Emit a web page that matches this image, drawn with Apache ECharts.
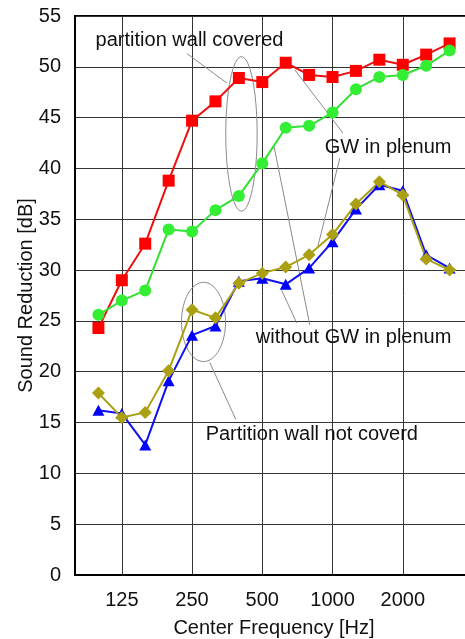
<!DOCTYPE html>
<html>
<head>
<meta charset="utf-8">
<script src="https://cdn.jsdelivr.net/npm/echarts@6/dist/echarts.min.js"></script>
<style>
html, body { margin: 0; padding: 0; background: #fff; }
#chart { width: 465px; height: 639px; }
</style>
</head>
<body>
<div id="chart"></div>
<script>
// axis bands (80 and 4000 only pad the axis ends)
var axisBands = ['80', '100', '125', '160', '200', '250', '315', '400', '500', '630', '800', '1000', '1250', '1600', '2000', '2500', '3150', '4000'];
var bands = ['100', '125', '160', '200', '250', '315', '400', '500', '630', '800', '1000', '1250', '1600', '2000', '2500', '3150'];
var tickLabels = ['125', '250', '500', '1000', '2000'];

// covered, GW in plenum
var coveredGW = [24.3, 29.0, 32.6, 38.8, 44.7, 46.6, 48.9, 48.5, 50.4, 49.2, 49.0, 49.6, 50.7, 50.2, 51.2, 52.3];
// covered, without GW
var coveredNoGW = [25.6, 27.0, 28.0, 34.0, 33.8, 35.9, 37.3, 40.5, 44.0, 44.2, 45.5, 47.8, 49.0, 49.2, 50.1, 51.6];
// not covered, GW in plenum
var notCoveredGW = [16.2, 15.9, 12.8, 19.1, 23.6, 24.5, 28.9, 29.2, 28.6, 30.2, 32.8, 36.0, 38.4, 37.8, 31.5, 30.2];
// not covered, without GW
var notCoveredNoGW = [17.9, 15.5, 16.0, 20.1, 26.1, 25.3, 28.7, 29.7, 30.3, 31.5, 33.5, 36.5, 38.7, 37.4, 31.1, 30.0];

// notes: [axis band index, dB]
var notes = [
    { text: 'partition wall covered', at: [0.88, 52.6] },
    { text: 'GW in plenum', at: [10.67, 42.05] },
    { text: 'without GW in plenum', at: [7.72, 23.4] },
    { text: 'Partition wall not coverd', at: [5.58, 13.85] }
];
var leaders = [
    [[4.78, 51.3], [6.49, 48.4]],
    [[9.39, 49.7], [11.44, 43.5]],
    [[11.31, 41.0], [10.37, 32.3]],
    [[8.49, 42.3], [10.03, 24.6]],
    [[8.83, 28.0], [9.47, 24.8]],
    [[5.76, 20.9], [6.87, 15.3]]
];
// [center band index, center dB, half width in bands, half height in dB]
var rings = [
    [7.11, 43.4, 0.67, 7.6],
    [5.49, 24.9, 0.94, 3.9]
];

var font = 'Liberation Sans, Arial, sans-serif';

function pairs(vals) {
    return bands.map(function (b, i) { return [b, vals[i]]; });
}
function showTick(index, value) {
    return tickLabels.indexOf(value) >= 0;
}

var chart = echarts.init(document.getElementById('chart'));
var option = {
    animation: false,
    grid: {
        left: 75,
        top: 16,
        right: -8,
        bottom: 64,
        show: true,
        borderColor: '#000',
        borderWidth: 2,
        outerBoundsMode: 'none'
    },
    xAxis: {
        type: 'category',
        boundaryGap: false,
        data: axisBands,
        name: 'Center Frequency [Hz]',
        nameLocation: 'middle',
        nameGap: 43,
        nameMoveOverlap: false,
        nameTextStyle: { fontSize: 20, color: '#111', fontFamily: font },
        axisLine: { lineStyle: { color: '#000', width: 2 } },
        axisTick: { show: false },
        axisLabel: { interval: showTick, fontSize: 20, margin: 15, color: '#111', fontFamily: font },
        splitLine: { show: true, interval: showTick, lineStyle: { color: '#333', width: 1 } }
    },
    yAxis: {
        type: 'value',
        min: 0,
        max: 55,
        interval: 5,
        name: 'Sound Reduction [dB]',
        nameLocation: 'middle',
        nameGap: 39,
        nameMoveOverlap: false,
        nameTextStyle: { fontSize: 20, color: '#111', fontFamily: font },
        axisLine: { show: true, lineStyle: { color: '#000', width: 2 } },
        axisTick: { show: false },
        axisLabel: { fontSize: 20, margin: 14, color: '#111', fontFamily: font },
        splitLine: { lineStyle: { color: '#333', width: 1 } }
    },
    series: [
        {
            name: 'covered GW', type: 'line', data: pairs(coveredGW),
            symbol: 'rect', symbolSize: 12,
            itemStyle: { color: '#ff0000' },
            lineStyle: { color: '#ee1010', width: 2 }
        },
        {
            name: 'covered no GW', type: 'line', data: pairs(coveredNoGW),
            symbol: 'circle', symbolSize: 12,
            itemStyle: { color: '#33ee33' },
            lineStyle: { color: '#33e033', width: 2 }
        },
        {
            name: 'not covered GW', type: 'line', data: pairs(notCoveredGW),
            symbol: 'triangle', symbolSize: [12, 11],
            itemStyle: { color: '#0000ff' },
            lineStyle: { color: '#1010f0', width: 2 }
        },
        {
            name: 'not covered no GW', type: 'line', data: pairs(notCoveredNoGW),
            symbol: 'diamond', symbolSize: [13, 13],
            itemStyle: { color: '#aaa012' },
            lineStyle: { color: '#aaa012', width: 2 }
        }
    ]
};
chart.setOption(option);

// annotations placed from data coordinates
var p0 = chart.convertToPixel({ gridIndex: 0 }, [0, 0]);
var p1 = chart.convertToPixel({ gridIndex: 0 }, [1, 0]);
var step = p1[0] - p0[0];
function toPx(pt) {
    var y = chart.convertToPixel({ gridIndex: 0 }, [0, pt[1]])[1];
    return [p0[0] + pt[0] * step, y];
}
var yUnit = p0[1] - chart.convertToPixel({ gridIndex: 0 }, [0, 1])[1];

var graphics = [];
leaders.forEach(function (l) {
    var a = toPx(l[0]), b = toPx(l[1]);
    graphics.push({
        type: 'line', silent: true, z: 1,
        shape: { x1: a[0], y1: a[1], x2: b[0], y2: b[1] },
        style: { stroke: '#8a8a8a', lineWidth: 1 }
    });
});
rings.forEach(function (r) {
    var c = toPx([r[0], r[1]]);
    graphics.push({
        type: 'ellipse', silent: true, z: 1,
        shape: { cx: c[0], cy: c[1], rx: r[2] * step, ry: r[3] * yUnit },
        style: { fill: null, stroke: '#8a8a8a', lineWidth: 1 }
    });
});
notes.forEach(function (n) {
    var p = toPx(n.at);
    graphics.push({
        type: 'text', silent: true, z: 10,
        x: p[0], y: p[1],
        style: { text: n.text, fill: '#111', font: '20px ' + font, textAlign: 'left', textVerticalAlign: 'middle', verticalAlign: 'middle' }
    });
});
chart.setOption({ graphic: graphics });
</script>
</body>
</html>
